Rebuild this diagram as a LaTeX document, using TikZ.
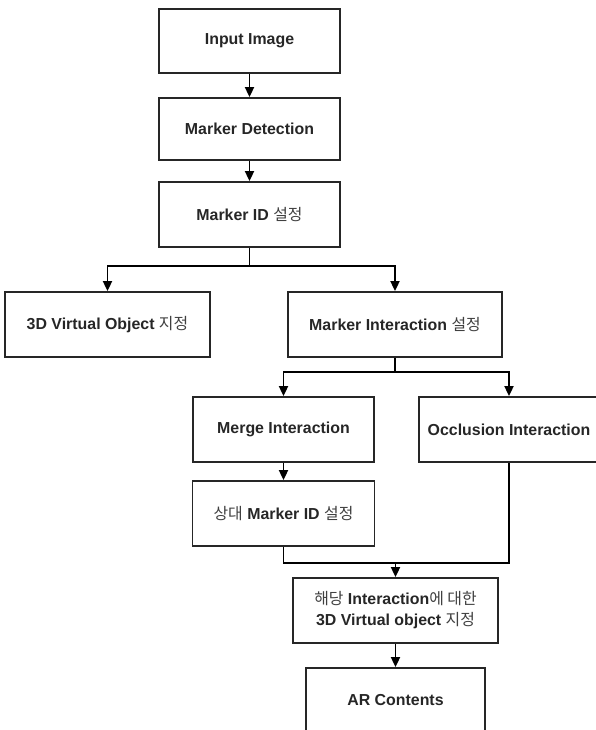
\documentclass[tikz,border=0pt]{standalone}
\usepackage{fontspec}
\setmainfont{Liberation Sans}
\newfontfamily\krfont{Noto Sans CJK KR}
\usetikzlibrary{arrows.meta}

\newcommand{\kr}[1]{{\krfont\mdseries\color{black!75}#1}}

\tikzset{
  box/.style={draw=black!85, line width=1.8pt, inner sep=0pt, minimum height=65pt,
    font=\fontsize{15.9}{21}\selectfont\bfseries, text=black!85, align=center},
  link/.style={draw=black, line width=1.8pt},
  arr/.style={link, -{Triangle[length=10pt,width=9pt]}}
}

\begin{document}
\begin{tikzpicture}[x=1pt,y=-1pt]
  \useasboundingbox (0,0) rectangle (596,730);

  \node[box, minimum width=181pt, minimum height=64pt] (inp) at (249.5,41) {Input Image};
  \node[box, minimum width=181pt, minimum height=62pt] (det) at (249.5,129) {Marker Detection};
  \node[box, minimum width=181pt] (mid) at (249.5,214.5) {Marker ID \kr{설정}};

  \node[box, minimum width=205pt] (obj) at (107.5,324.5) {3D Virtual Object \kr{지정}};
  \node[box, minimum width=214pt] (mint) at (395,324.5) {Marker Interaction \kr{설정}};

  \node[box, minimum width=181pt] (merge) at (283.5,429.5) {Merge Interaction};
  \node[box, minimum width=180pt] (occl) at (509,429.5) {Occlusion Interaction};
  \node[box, minimum width=182pt] (rel) at (283.5,513.5) {\kr{상대} Marker ID \kr{설정}};

  \node[box, minimum width=205pt] (sel) at (395.5,610.5)
    {\kr{해당} Interaction\kr{에 대한}\\3D Virtual object \kr{지정}};
  \node[box, minimum width=179pt] (ar) at (395.5,700.5) {AR Contents};

  \coordinate (j1) at (249.5,266);
  \coordinate (j2) at (395,372);
  \coordinate (j3) at (395.5,563);

  \draw[arr] (inp) -- (det);
  \draw[arr] (det) -- (mid);
  \draw[link] (mid.south) -- (j1);
  \draw[arr] (j1) -| (obj.north);
  \draw[arr] (j1) -| (mint.north);
  \draw[link] (mint.south) -- (j2);
  \draw[arr] (j2) -| (merge.north);
  \draw[arr] (j2) -| (occl.north);
  \draw[arr] (merge) -- (rel);
  \draw[link] (rel.south) |- (j3);
  \draw[link] (occl.south) |- (j3);
  \draw[arr] (j3) -- (sel);
  \draw[arr] (sel) -- (ar);
\end{tikzpicture}
\end{document}
